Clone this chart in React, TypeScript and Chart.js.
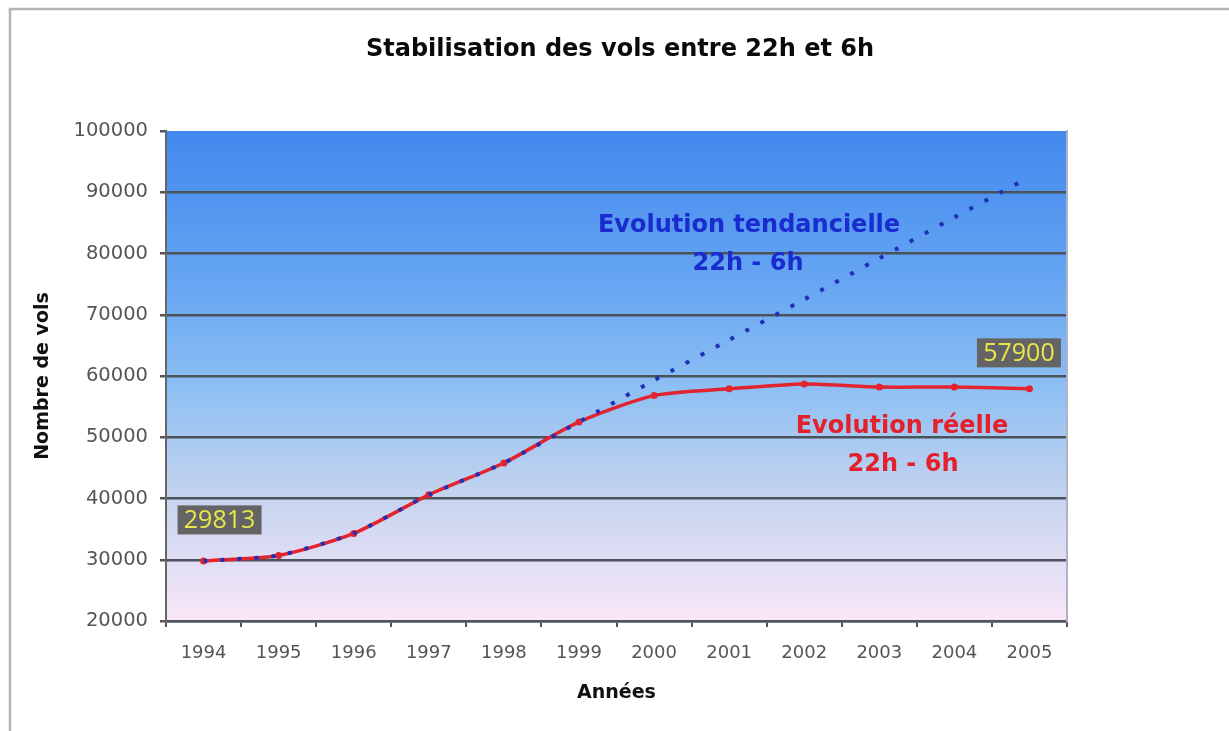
import React, { useEffect, useRef } from "react";
import { Chart, registerables } from "chart.js";

Chart.register(...registerables);

const years = ["1994", "1995", "1996", "1997", "1998", "1999", "2000", "2001", "2002", "2003", "2004", "2005"];
const evolutionReelle = [29813, 30700, 34300, 40600, 45800, 52500, 56800, 57900, 58700, 58200, 58200, 57900];
const evolutionTendancielle = [29813, 30700, 34300, 40600, 45800, 52500, 59300, 65900, 72500, 79200, 85900, 92500];
const yTicks = [20000, 30000, 40000, 50000, 60000, 70000, 80000, 90000, 100000];

const TITLE = "Stabilisation des vols entre 22h et 6h";
const Y_TITLE = "Nombre de vols";
const X_TITLE = "Années";
const BLUE_LABEL = ["Evolution tendancielle", "22h - 6h"];
const RED_LABEL = ["Evolution réelle", "22h - 6h"];
const firstValueLabel = "29813";
const lastValueLabel = "57900";

const decorPlugin = {
  id: "decor",
  beforeDraw(chart: any) {
    const { ctx, chartArea } = chart;
    const { left, right, top, bottom } = chartArea;
    ctx.save();
    const g = ctx.createLinearGradient(0, top, 0, bottom);
    g.addColorStop(0, "#4388ee");
    g.addColorStop(0.3, "#64a4f2");
    g.addColorStop(0.52, "#8cbff3");
    g.addColorStop(0.75, "#c6d4ef");
    g.addColorStop(1, "#f9e7f7");
    ctx.fillStyle = g;
    ctx.fillRect(left, top, right - left, bottom - top);
    // outer frame
    ctx.strokeStyle = "#b4b4b4";
    ctx.lineWidth = 2.5;
    ctx.beginPath();
    ctx.moveTo(10, 731);
    ctx.lineTo(10, 9);
    ctx.lineTo(1229, 9);
    ctx.stroke();
    ctx.restore();
  },
  afterDraw(chart: any) {
    const { ctx } = chart;
    const xs = chart.scales.x;
    const ys = chart.scales.y;
    ctx.save();
    ctx.textAlign = "center";
    ctx.textBaseline = "middle";
    // title
    ctx.fillStyle = "#0a0a0a";
    ctx.font = "bold 24px 'DejaVu Sans'";
    ctx.fillText(TITLE, 620, 50);
    // series labels
    ctx.font = "bold 24px 'DejaVu Sans'";
    ctx.fillStyle = "#1a2bd0";
    ctx.fillText(BLUE_LABEL[0], 749, 226);
    ctx.fillText(BLUE_LABEL[1], 748, 264);
    ctx.fillStyle = "#e3202c";
    ctx.fillText(RED_LABEL[0], 902, 427);
    ctx.fillText(RED_LABEL[1], 903, 465);
    // value boxes
    const box = (text: string, idx: number, val: number, dx: number, dy: number) => {
      const px = xs.getPixelForValue(idx);
      const py = ys.getPixelForValue(val);
      const cx = px + dx;
      const cy = py + dy;
      const w = 84;
      const h = 29;
      ctx.fillStyle = "#646464";
      ctx.fillRect(cx - w / 2, cy - h / 2, w, h);
      ctx.fillStyle = "#e8e64a";
      ctx.font = "25px 'Open Sans'";
      ctx.fillText(text, cx, cy + 1);
    };
    box(firstValueLabel, 0, evolutionReelle[0], 16, -41);
    box(lastValueLabel, years.length - 1, evolutionReelle[years.length - 1], -10.5, -36);
    ctx.restore();
  },
};

export default function App() {
  const ref = useRef<HTMLCanvasElement | null>(null);
  useEffect(() => {
    const canvas = ref.current;
    if (!canvas) return;
    const chart = new Chart(canvas, {
      type: "line",
      data: {
        labels: years,
        datasets: [
          {
            label: "Evolution tendancielle 22h - 6h",
            data: evolutionTendancielle,
            borderColor: "#1f2fb8",
            borderWidth: 4,
            borderDash: [4, 13],
            borderCapStyle: "butt",
            pointRadius: 0,
            tension: 0.2,
            fill: false,
            order: 0,
          },
          {
            label: "Evolution réelle 22h - 6h",
            data: evolutionReelle,
            borderColor: "#e22430",
            backgroundColor: "#e22430",
            borderWidth: 3.5,
            pointRadius: 3.5,
            pointBorderWidth: 0,
            tension: 0.25,
            fill: false,
            order: 1,
          },
        ],
      },
      options: {
        responsive: false,
        animation: false,
        devicePixelRatio: 1,
        layout: { padding: { left: 0, top: 131, right: 0, bottom: 0 } },
        plugins: {
          legend: { display: false },
          title: { display: false },
          tooltip: { enabled: false },
        },
        scales: {
          x: {
            type: "category",
            offset: true,
            grid: {
              offset: true,
              drawOnChartArea: false,
              drawTicks: true,
              tickLength: 6,
              color: "#555",
              lineWidth: 2,
            },
            border: { display: true, color: "#4f565e", width: 2.5 },
            ticks: {
              color: "#555",
              font: { family: "'DejaVu Sans'", size: 18 },
              padding: 16,
              maxRotation: 0,
              autoSkip: false,
            },
            title: {
              display: true,
              text: X_TITLE,
              color: "#111",
              font: { family: "'DejaVu Sans'", size: 19, weight: "bold" },
              padding: { top: 0, bottom: 26.6 },
            },
            afterFit: (scale: any) => {
              scale.height = 110;
            },
          },
          y: {
            position: "left",
            min: 20000,
            max: 100000,
            afterBuildTicks: (scale: any) => {
              scale.ticks = yTicks.map((v) => ({ value: v }));
            },
            grid: {
              color: (c: any) => (c.tick && c.tick.value === 100000 ? "rgba(0,0,0,0)" : "#4b525a"),
              tickColor: "#555",
              lineWidth: 2.5,
              tickLength: 6,
            },
            border: { display: true, color: "#666", width: 2 },
            ticks: {
              color: "#555",
              font: { family: "'DejaVu Sans'", size: 19.5 },
              padding: 12,
              callback: (v: any) => String(v),
            },
            title: {
              display: true,
              text: Y_TITLE,
              color: "#111",
              font: { family: "'DejaVu Sans'", size: 19, weight: "bold" },
              padding: { top: 31.6, bottom: 0 },
            },
            afterFit: (scale: any) => {
              scale.width = 166;
            },
          },
          yR: {
            position: "right",
            min: 20000,
            max: 100000,
            grid: { drawOnChartArea: false, drawTicks: false },
            border: { display: true, color: "#b3b0c8", width: 2 },
            ticks: { display: false },
            afterFit: (scale: any) => {
              scale.width = 162;
            },
          },
        },
      },
      plugins: [decorPlugin],
    } as any);
    return () => chart.destroy();
  }, []);
  return (
    <div style={{ position: "absolute", left: 0, top: 0, width: 1229, height: 731, background: "#fff" }}>
      <canvas ref={ref} width={1229} height={731} style={{ width: 1229, height: 731, display: "block" }} />
    </div>
  );
}
